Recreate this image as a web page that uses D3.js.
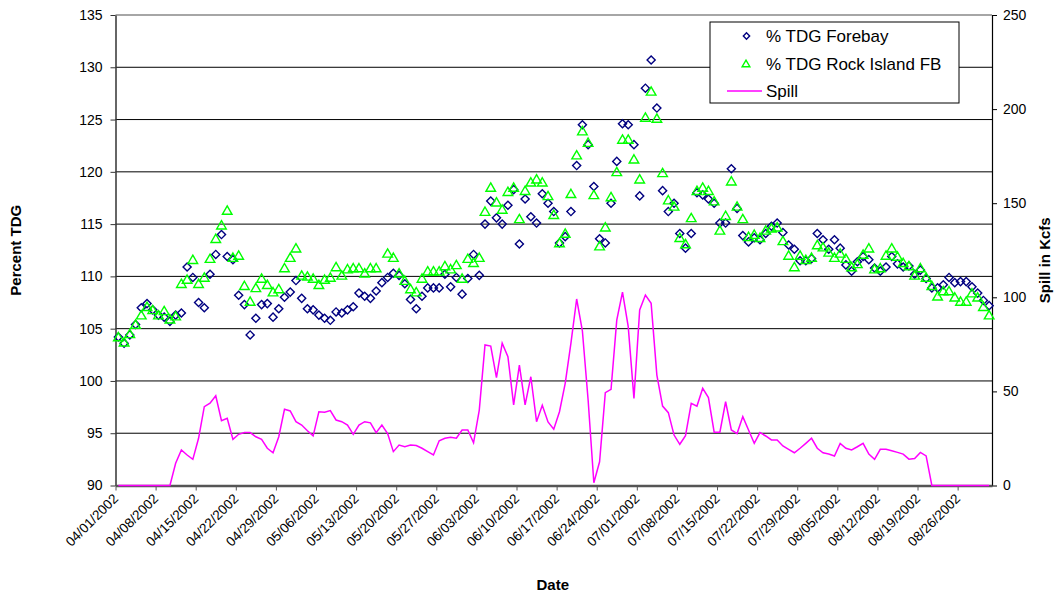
<!DOCTYPE html>
<html>
<head>
<meta charset="utf-8">
<script src="https://cdn.jsdelivr.net/npm/d3@7"></script>
<style>
  body { margin: 0; background: #fff; }
  svg { font-family: Arial, "Liberation Sans", sans-serif; }
</style>
</head>
<body>
<svg id="chart" width="1059" height="595"></svg>
<script>
// daily readings, 04/01/2002 .. 08/31/2002
const startDate = "04/01/2002";
const endDate = "09/01/2002";

const forebay = [
  104.2, 103.6, 104.4, 105.4, 107.0, 107.4, 106.8, 106.3, 106.1, 105.7,
  106.3, 106.5, 110.9, 109.9, 107.5, 107.0, 110.2, 112.1, 114.0, 111.9,
  111.6, 108.2, 107.3, 104.4, 106.0, 107.3, 107.4, 106.1, 106.9, 108.0,
  108.5, 109.6, 107.9, 106.9, 106.8, 106.3, 106.0, 105.8, 106.6, 106.5,
  106.8, 107.1, 108.4, 108.1, 107.9, 108.6, 109.4, 109.9, 110.3, 110.1,
  109.3, 107.8, 106.9, 108.1, 108.9, 108.9, 108.9, 110.2, 109.0, 109.9,
  108.3, 109.8, 112.1, 110.1, 115.0, 117.2, 115.6, 115.0, 116.8, 118.3,
  113.1, 117.4, 115.7, 115.1, 117.9, 117.0, 116.2, 113.2, 113.8, 116.2,
  120.6, 124.5, 122.6, 118.6, 113.6, 113.2, 117.0, 121.0, 124.6, 124.5,
  122.6, 117.7, 128.0, 130.7, 126.1, 118.2, 116.2, 117.0, 114.1, 112.7,
  114.1, 118.0, 117.8, 117.4, 117.0, 115.1, 115.1, 120.3, 116.5, 113.9,
  113.3, 113.7, 113.5, 114.1, 114.8, 115.1, 114.2, 113.0, 112.6, 111.5,
  111.5, 111.7, 114.1, 113.5, 112.6, 113.5, 112.7, 111.1, 110.5, 111.4,
  111.9, 111.6, 110.8, 110.5, 110.9, 111.9, 111.2, 110.9, 111.0, 110.2,
  110.6, 109.8, 108.9, 108.9, 109.2, 109.9, 109.4, 109.5, 109.5, 109.0,
  108.4, 107.7, 107.2
];

const rockIsland = [
  104.2, 103.7, 104.5, 105.4, 106.3, 107.1, 106.8, 106.3, 106.7, 105.9,
  106.2, 109.3, 109.7, 111.6, 109.3, 109.9, 111.7, 113.6, 114.9, 116.3,
  111.8, 112.0, 109.1, 107.6, 108.9, 109.8, 109.2, 108.5, 108.8, 110.8,
  111.8, 112.7, 110.1, 110.0, 109.8, 109.2, 109.7, 109.9, 110.9, 110.1,
  110.7, 110.8, 110.8, 110.3, 110.8, 110.8, null, 112.2, 111.8, 110.3,
  109.6, 108.8, 108.5, 109.8, 110.5, 110.5, 110.5, 111.0, 110.7, 111.1,
  109.8, 111.7, 111.3, 111.8, 116.2, 118.5, 117.1, 116.4, 118.1, 118.5,
  115.5, 118.2, 119.0, 119.3, 119.0, 117.7, 115.9, 113.2, 114.1, 117.9,
  121.6, 123.9, 122.8, 117.8, 112.9, 114.7, 117.6, 120.0, 123.1, 123.1,
  121.2, 119.3, 125.2, 127.7, 125.1, 119.9, 117.3, 116.7, 113.7, 113.1,
  115.6, 118.2, 118.5, 118.2, 117.2, 114.4, 115.8, 119.1, 116.7, 115.5,
  113.8, 114.0, 113.7, 114.4, 114.6, 114.7, 113.4, 112.0, 110.9, 112.0,
  111.6, 111.8, 113.0, 112.8, 112.3, 111.8, 112.2, 111.7, 110.9, 111.2,
  112.1, 112.7, 110.7, 110.8, 112.0, 112.7, 111.9, 111.3, 111.0, 110.1,
  110.8, 109.9, 109.1, 108.1, 108.6, 108.6, 108.0, 107.6, 107.6, 108.4,
  108.0, 107.1, 106.3
];

const spill = [
  0, 0, 0, 0, 0, 0, 0, 0, 0, 0,
  11.8, 18.9, 16.2, 13.9, 25.1, 41.9, 43.7, 47.7, 34.4, 35.7,
  24.5, 27.2, 28.1, 28.1, 25.9, 24.5, 19.8, 17.4, 25.9, 40.5,
  39.6, 33.9, 32.1, 29.1, 26.4, 39.2, 38.9, 39.8, 34.8, 33.9,
  32.1, 27.2, 32.1, 33.9, 33.3, 28.1, 32.1, 27.6, 18.0, 21.5,
  20.6, 21.5, 21.2, 19.8, 18.0, 16.2, 23.8, 25.1, 25.6, 25.1,
  29.5, 29.5, 22.7, 40.1, 74.7, 74.1, 57.3, 75.6, 68.5, 42.8,
  64.0, 42.8, 57.8, 33.9, 42.6, 33.8, 29.9, 39.2, 54.3, 75.6,
  99.1, 82.1, 45.4, 1.5, 12.6, 49.3, 51.1, 87.9, 102.7, 84.4,
  46.3, 93.3, 101.2, 96.8, 58.7, 42.2, 38.7, 26.8, 21.9, 26.5,
  43.7, 42.2, 51.6, 46.7, 28.3, 28.3, 44.5, 29.5, 27.6, 36.6,
  29.5, 22.4, 28.1, 26.3, 24.2, 24.2, 21.0, 19.2, 17.4, 19.8,
  22.4, 25.1, 19.8, 17.4, 16.7, 15.7, 22.4, 19.8, 18.9, 20.6,
  22.4, 16.7, 13.9, 19.2, 19.2, 18.5, 17.6, 16.7, 14.0, 14.3,
  17.6, 15.7, 0, 0, 0, 0, 0, 0, 0, 0,
  0, 0, 0
];

const dateLabels = [
  "04/01/2002", "04/08/2002", "04/15/2002", "04/22/2002", "04/29/2002",
  "05/06/2002", "05/13/2002", "05/20/2002", "05/27/2002", "06/03/2002",
  "06/10/2002", "06/17/2002", "06/24/2002", "07/01/2002", "07/08/2002",
  "07/15/2002", "07/22/2002", "07/29/2002", "08/05/2002", "08/12/2002",
  "08/19/2002", "08/26/2002"
];
const tdgTicks = [90, 95, 100, 105, 110, 115, 120, 125, 130, 135];
const spillTicks = [0, 50, 100, 150, 200, 250];

const legendItems = ["% TDG Forebay", "% TDG Rock Island FB", "Spill"];

const plot = {left: 115.5, right: 992, top: 15, bottom: 485.5};

const parse = d3.utcParse("%m/%d/%Y");
const fmt = d3.utcFormat("%m/%d/%Y");
const day0 = parse(startDate);
// Excel draws each day in the middle of its slot
const dayAt = i => d3.utcHour.offset(d3.utcDay.offset(day0, i), 12);

const svg = d3.select("#chart");

const x = d3.scaleUtc()
  .domain([day0, parse(endDate)])
  .range([plot.left, plot.right]);
const y = d3.scaleLinear()
  .domain([90, 135])
  .range([plot.bottom, plot.top]);
const y2 = d3.scaleLinear()
  .domain([0, 250])
  .range([plot.bottom, plot.top]);

// horizontal gridlines
svg.append("g")
  .selectAll("line")
  .data(tdgTicks.filter(t => t > 90 && t < 135))
  .join("line")
  .attr("x1", plot.left).attr("x2", plot.right)
  .attr("y1", d => y(d)).attr("y2", d => y(d))
  .attr("stroke", "#000").attr("stroke-width", 1);

// top border of plot area
svg.append("line")
  .attr("x1", plot.left).attr("x2", plot.right)
  .attr("y1", y(135)).attr("y2", y(135))
  .attr("stroke", "#888").attr("stroke-width", 1.5);

// left axis
const yAxis = svg.append("g")
  .attr("transform", `translate(${plot.left},0)`)
  .call(d3.axisLeft(y).tickValues(tdgTicks).tickSize(5).tickPadding(8).tickSizeOuter(0));
yAxis.select(".domain").attr("stroke", "#333").attr("stroke-width", 1.5);
yAxis.selectAll(".tick line").attr("stroke", "#333");
yAxis.selectAll("text").attr("font-size", 14).attr("fill", "#000");

// right axis
const y2Axis = svg.append("g")
  .attr("transform", `translate(${plot.right},0)`)
  .call(d3.axisRight(y2).tickValues(spillTicks).tickSize(5).tickPadding(6).tickSizeOuter(0));
y2Axis.select(".domain").attr("stroke", "#000").attr("stroke-width", 1.2);
y2Axis.selectAll(".tick line").attr("stroke", "#000");
y2Axis.selectAll("text").attr("font-size", 14).attr("fill", "#000");

// bottom axis
const xAxis = svg.append("g")
  .attr("transform", `translate(0,${plot.bottom})`)
  .call(d3.axisBottom(x).tickValues(dateLabels.map(parse)).tickFormat(fmt)
    .tickSize(5).tickSizeOuter(0));
xAxis.select(".domain").attr("stroke", "#555").attr("stroke-width", 2.5);
xAxis.selectAll(".tick line").attr("stroke", "#555");
xAxis.selectAll("text")
  .attr("font-size", 13.5)
  .attr("fill", "#000")
  .attr("text-anchor", "end")
  .attr("dy", null)
  .attr("y", 0)
  .attr("transform", "translate(3,14) rotate(-45)");

// axis titles
svg.append("text")
  .attr("transform", `translate(21,${(plot.top + plot.bottom) / 2}) rotate(-90)`)
  .attr("text-anchor", "middle")
  .attr("font-size", 15).attr("font-weight", "bold")
  .text("Percent TDG");
svg.append("text")
  .attr("transform", `translate(1050,${(plot.top + plot.bottom) / 2 + 10}) rotate(-90)`)
  .attr("text-anchor", "middle")
  .attr("font-size", 15).attr("font-weight", "bold")
  .text("Spill in Kcfs");
svg.append("text")
  .attr("x", (plot.left + plot.right) / 2 - 1)
  .attr("y", 590)
  .attr("text-anchor", "middle")
  .attr("font-size", 15).attr("font-weight", "bold")
  .text("Date");

const diamond = d3.symbol().type(d3.symbolSquare).size(33);
const triangle = d3.symbol().type(d3.symbolTriangle).size(40);

// forebay diamonds
svg.append("g")
  .selectAll("path")
  .data(forebay.map((v, i) => ({d: dayAt(i), v})).filter(p => p.v != null))
  .join("path")
  .attr("d", diamond)
  .attr("transform", p => `translate(${x(p.d)},${y(p.v)}) rotate(45)`)
  .attr("fill", "none")
  .attr("stroke", "#000080")
  .attr("stroke-width", 1.4);

// rock island triangles
svg.append("g")
  .selectAll("path")
  .data(rockIsland.map((v, i) => ({d: dayAt(i), v})).filter(p => p.v != null))
  .join("path")
  .attr("d", triangle)
  .attr("transform", p => `translate(${x(p.d)},${y(p.v) + 1})`)
  .attr("fill", "none")
  .attr("stroke", "#00ff00")
  .attr("stroke-width", 1.4);

// spill line on the right axis
const spillLine = d3.line()
  .x((v, i) => x(dayAt(i)))
  .y(v => y2(v));
svg.append("path")
  .datum(spill)
  .attr("d", spillLine)
  .attr("fill", "none")
  .attr("stroke", "#ff00ff")
  .attr("stroke-width", 1.5);

// legend
const lg = svg.append("g").attr("transform", "translate(710,22)");
lg.append("rect")
  .attr("width", 249).attr("height", 81)
  .attr("fill", "#fff").attr("stroke", "#000").attr("stroke-width", 1);
const rowY = [14, 41.5, 69];
lg.append("path")
  .attr("d", d3.symbol().type(d3.symbolSquare).size(20))
  .attr("transform", `translate(36.5,${rowY[0]}) rotate(45)`)
  .attr("fill", "none").attr("stroke", "#000080").attr("stroke-width", 1.4);
lg.append("path")
  .attr("d", d3.symbol().type(d3.symbolTriangle).size(26))
  .attr("transform", `translate(36,${rowY[1] + 1})`)
  .attr("fill", "none").attr("stroke", "#00ff00").attr("stroke-width", 1.4);
lg.append("line")
  .attr("x1", 17).attr("x2", 52)
  .attr("y1", rowY[2]).attr("y2", rowY[2])
  .attr("stroke", "#ff00ff").attr("stroke-width", 1.5);
lg.selectAll("text.item")
  .data(legendItems)
  .join("text")
  .attr("class", "item")
  .attr("x", 56)
  .attr("y", (d, i) => rowY[i])
  .attr("dy", "0.36em")
  .attr("font-size", 17)
  .text(d => d);
</script>
</body>
</html>
